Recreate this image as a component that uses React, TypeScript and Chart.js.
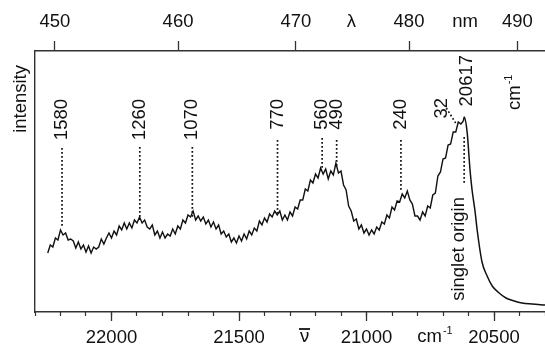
import React, { useEffect, useRef } from 'react';
import { Chart, registerables } from 'chart.js';

Chart.register(...registerables);

// ---- axes ----
const WN_MIN = 20300;
const WN_MAX = 22300;
const majorTicks = [22000, 21500, 21000, 20500];
const minorTicks = [22300, 22200, 22100, 22000, 21900, 21800, 21700, 21600, 21500, 21400, 21300, 21200, 21100, 21000, 20900, 20800, 20700, 20600, 20500, 20400, 20300];
const lambdaTicks = [450, 460, 470, 480, 490];

// ---- spectrum (wavenumber grid, cm-1, and read intensities) ----
const specWnStart = 22250;
const specWnStep = 10;
const specIntensity = [
  59, 67, 65, 74, 72, 82, 77, 79, 72, 73,
  71, 64, 70, 63, 67, 60, 66, 59, 65, 63,
  65, 73, 68, 74, 79, 74, 81, 77, 86, 82,
  89, 83, 89, 84, 92, 89, 95, 89, 92, 85,
  83, 87, 77, 81, 74, 80, 74, 78, 76, 83,
  78, 86, 83, 92, 89, 97, 95, 101, 92, 96,
  91, 95, 88, 92, 85, 90, 83, 87, 78, 81,
  75, 78, 70, 74, 69, 76, 71, 78, 73, 81,
  77, 84, 81, 91, 87, 94, 90, 98, 95, 101,
  97, 101, 92, 97, 92, 100, 96, 105, 103, 112,
  112, 123, 121, 132, 129, 138, 134, 144, 138, 143,
  133, 141, 137, 149, 139, 141, 127, 122, 106, 101,
  91, 93, 83, 87, 79, 83, 77, 82, 78, 85,
  82, 90, 88, 97, 94, 105, 102, 111, 110, 118,
  114, 121, 112, 108, 96, 96, 92, 100, 96, 106,
  104, 117, 119, 136, 140, 153, 154, 167, 168, 180,
  180, 190, 188, 191,
];
const tailWn = [20620, 20617, 20605, 20597, 20594, 20586, 20574, 20566, 20547, 20527, 20507, 20480, 20453, 20421, 20390, 20351, 20300];
const tailIntensity = [191, 195, 179, 152, 142, 122, 100, 82, 50, 36, 26, 19, 14, 11, 9, 8, 7];

// ---- vibronic annotations ----
const annotLabels = ['1580', '1260', '1070', '770', '560', '490', '240'];
const annotWn = [22194, 21889, 21683, 21349, 21174, 21117, 20865];
const annotTop = [164, 165, 165, 172, 174, 172, 172];
const annotEnd = [85, 92, 95, 99, 142, 145, 122];
const annotLabelTop = 213;

const label32 = '32';
const label32Wn = 20706;
const label32Top = 214;
const leader32Wn = [20687, 20648];
const leader32I = [204, 188];

const originLabel = '20617';
const originWn = 20617;
const originLabelWn = 20607;
const originLabelTop = 257;
const originLineI = [175, 127];
const singletText = 'singlet origin';
const singletWn = 20636;
const singletTop = 115;

const FONT = '"Liberation Sans", Arial, Helvetica, sans-serif';
const INK = '#111';
const AXIS = '#333';

const textPlugin = {
  id: 'texts',
  afterDraw(chart: any) {
    const { ctx, chartArea, scales } = chart;
    const xs = scales.x;
    const ys = scales.y;
    const f = (s: number) => `${s}px ${FONT}`;
    ctx.save();
    ctx.fillStyle = INK;
    const vtext = (t: string, px: number, py: number, align: CanvasTextAlign) => {
      ctx.save();
      ctx.translate(px, py);
      ctx.rotate(-Math.PI / 2);
      ctx.textAlign = align;
      ctx.textBaseline = 'middle';
      ctx.fillText(t, 0, 0);
      ctx.restore();
    };
    ctx.font = f(18.5);
    annotLabels.forEach((t, i) => {
      vtext(t, xs.getPixelForValue(annotWn[i]), ys.getPixelForValue(annotLabelTop), 'right');
    });
    vtext(label32, xs.getPixelForValue(label32Wn), ys.getPixelForValue(label32Top), 'right');
    vtext(originLabel, xs.getPixelForValue(originLabelWn), ys.getPixelForValue(originLabelTop), 'right');
    vtext(singletText, xs.getPixelForValue(singletWn), ys.getPixelForValue(singletTop), 'right');

    // rotated cm-1 inside plot
    ctx.save();
    ctx.translate(xs.getPixelForValue(20398), ys.getPixelForValue(202));
    ctx.rotate(-Math.PI / 2);
    ctx.textAlign = 'left';
    ctx.textBaseline = 'alphabetic';
    ctx.font = f(18.5);
    ctx.fillText('cm', 0, 0);
    const wcm = ctx.measureText('cm').width;
    ctx.font = f(11);
    ctx.fillText('-1', wcm + 1, -8);
    ctx.restore();

    // intensity
    ctx.font = f(18.5);
    vtext('intensity', chartArea.left - 14, chartArea.top + 14, 'right');

    // top axis titles
    ctx.textAlign = 'center';
    ctx.textBaseline = 'middle';
    ctx.font = f(18.5);
    ctx.fillText('\u03bb', xs.getPixelForValue(21059), 21.5);
    ctx.fillText('nm', xs.getPixelForValue(20613), 21.5);

    // bottom axis titles
    ctx.textBaseline = 'alphabetic';
    const nuX = xs.getPixelForValue(21243);
    ctx.fillText('\u03bd', nuX, 342);
    ctx.strokeStyle = INK;
    ctx.lineWidth = 1.8;
    ctx.beginPath();
    ctx.moveTo(nuX - 5.5, 329);
    ctx.lineTo(nuX + 5.5, 329);
    ctx.stroke();
    ctx.textAlign = 'left';
    const cmX = xs.getPixelForValue(20801);
    ctx.fillText('cm', cmX, 342);
    const w2 = ctx.measureText('cm').width;
    ctx.font = f(11);
    ctx.fillText('-1', cmX + w2 + 1, 334);
    ctx.restore();
  },
};

export default function App() {
  const ref = useRef<HTMLCanvasElement>(null);
  useEffect(() => {
    const canvas = ref.current;
    if (!canvas) return;
    const spectrum = specIntensity.map((v, i) => ({ x: specWnStart - i * specWnStep, y: v }));
    const tail = tailWn.map((w, i) => ({ x: w, y: tailIntensity[i] }));
    const dotted = {
      borderColor: INK,
      borderWidth: 1.7,
      borderDash: [1.7, 2.3],
      pointRadius: 0,
      fill: false,
      xAxisID: 'x',
      yAxisID: 'y',
    };
    const annotSets = annotWn.map((w, i) => ({
      ...dotted,
      data: [{ x: w, y: annotTop[i] }, { x: w, y: annotEnd[i] }],
    }));
    const datasets: any[] = [
      {
        data: spectrum,
        borderColor: INK,
        borderWidth: 1.4,
        pointRadius: 0,
        tension: 0,
        fill: false,
        xAxisID: 'x',
        yAxisID: 'y',
      },
      {
        data: tail,
        borderColor: INK,
        borderWidth: 1.5,
        pointRadius: 0,
        cubicInterpolationMode: 'monotone',
        fill: false,
        xAxisID: 'x',
        yAxisID: 'y',
      },
      ...annotSets,
      { ...dotted, data: [{ x: leader32Wn[0], y: leader32I[0] }, { x: leader32Wn[1], y: leader32I[1] }] },
      { ...dotted, data: [{ x: originWn, y: originLineI[0] }, { x: originWn, y: originLineI[1] }] },
    ];
    const tickFont = { family: FONT, size: 18.5 };
    const chart = new Chart(canvas, {
      type: 'line',
      data: { datasets },
      plugins: [textPlugin],
      options: {
        animation: false,
        responsive: false,
        devicePixelRatio: 1,
        layout: { padding: 0 },
        plugins: { legend: { display: false }, tooltip: { enabled: false } },
        scales: {
          x: {
            type: 'linear',
            axis: 'x',
            position: 'bottom',
            reverse: true,
            min: WN_MIN,
            max: WN_MAX,
            weight: 1,
            afterBuildTicks: (s: any) => { s.ticks = majorTicks.map((v) => ({ value: v })); },
            afterFit: (s: any) => { s.height = 33; },
            ticks: { callback: (v: any) => String(v), font: tickFont, color: INK, padding: 5.5, maxRotation: 0, autoSkip: false },
            grid: { drawOnChartArea: false, drawTicks: true, tickLength: 9, tickColor: AXIS, tickWidth: 1.3 },
            border: { display: true, color: AXIS, width: 1.4 },
          },
          xMinor: {
            type: 'linear',
            axis: 'x',
            position: 'bottom',
            reverse: true,
            min: WN_MIN,
            max: WN_MAX,
            weight: 0,
            afterBuildTicks: (s: any) => { s.ticks = minorTicks.map((v) => ({ value: v })); },
            afterFit: (s: any) => { s.height = 0; },
            ticks: { display: false },
            grid: { drawOnChartArea: false, drawTicks: true, tickLength: 4, tickColor: AXIS, tickWidth: 1.2 },
            border: { display: false },
          },
          xTop: {
            type: 'linear',
            axis: 'x',
            position: 'top',
            reverse: true,
            min: WN_MIN,
            max: WN_MAX,
            afterBuildTicks: (s: any) => { s.ticks = lambdaTicks.map((l) => ({ value: 1e7 / l })); },
            afterFit: (s: any) => { s.height = 51; },
            ticks: { callback: (v: any) => String(Math.round(1e7 / v)), font: tickFont, color: INK, padding: 8, maxRotation: 0, autoSkip: false },
            grid: { drawOnChartArea: false, drawTicks: true, tickLength: 10, tickColor: AXIS, tickWidth: 1.3 },
            border: { display: true, color: AXIS, width: 1.4 },
          },
          y: {
            type: 'linear',
            axis: 'y',
            position: 'left',
            min: 0,
            max: 261,
            afterFit: (s: any) => { s.width = 35; },
            ticks: { display: false },
            grid: { drawOnChartArea: false, drawTicks: false },
            border: { display: true, color: AXIS, width: 1.4 },
          },
        },
      } as any,
    });
    return () => chart.destroy();
  }, []);
  return (
    <div style={{ position: 'fixed', left: 0, top: 0, width: 545, height: 345, background: '#fff' }}>
      <canvas ref={ref} width={545} height={345} style={{ display: 'block' }} />
    </div>
  );
}
